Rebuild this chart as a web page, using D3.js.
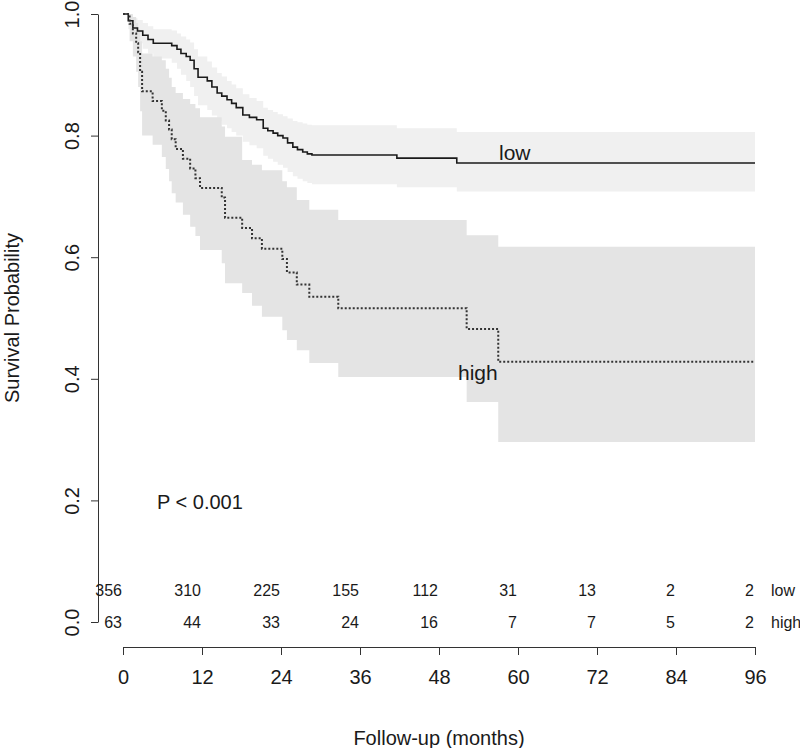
<!DOCTYPE html>
<html>
<head>
<meta charset="utf-8">
<script src="https://cdn.jsdelivr.net/npm/d3@7"></script>
<style>
  body { margin: 0; background: #fff; }
  text { font-family: "Liberation Sans", Arial, sans-serif; fill: #1a1a1a; }
</style>
</head>
<body>
<svg id="chart" width="800" height="748"></svg>
<script>
// ---- data ----
const lowTimes = [0, 0.8, 1.5, 2.2, 3.0, 3.8, 4.6, 7.4, 8.2, 8.8, 9.6, 10.2, 10.8, 11.4, 12.8, 13.5, 14.3, 15.0, 15.8, 16.5, 17.2, 18.2, 19.2, 20.3, 21.3, 22.0, 22.8, 23.5, 24.3, 25.0, 25.8, 26.5, 27.3, 28.0, 28.7, 41.6, 50.7];
const lowSurv  = [1, 0.989, 0.977, 0.972, 0.965, 0.958, 0.952, 0.948, 0.942, 0.935, 0.93, 0.924, 0.91, 0.896, 0.89, 0.88, 0.87, 0.865, 0.859, 0.853, 0.846, 0.834, 0.83, 0.826, 0.812, 0.808, 0.804, 0.8, 0.796, 0.788, 0.781, 0.777, 0.773, 0.77, 0.768, 0.763, 0.755];
const lowLower = [1, 0.975, 0.96, 0.952, 0.943, 0.935, 0.927, 0.92, 0.91, 0.9, 0.89, 0.88, 0.865, 0.85, 0.842, 0.833, 0.824, 0.818, 0.812, 0.806, 0.8, 0.79, 0.784, 0.779, 0.767, 0.762, 0.757, 0.752, 0.747, 0.74, 0.733, 0.729, 0.725, 0.722, 0.72, 0.715, 0.708];
const lowUpper = [1, 1.0, 0.993, 0.99, 0.985, 0.98, 0.975, 0.973, 0.968, 0.963, 0.958, 0.953, 0.942, 0.93, 0.922, 0.912, 0.903, 0.897, 0.89, 0.884, 0.878, 0.868, 0.862, 0.857, 0.846, 0.842, 0.839, 0.835, 0.832, 0.828, 0.824, 0.822, 0.82, 0.818, 0.817, 0.812, 0.806];

const highTimes = [0, 1.0, 1.5, 2.0, 2.3, 2.6, 2.9, 4.5, 5.9, 6.5, 7.0, 7.4, 8.0, 9.1, 10.2, 11.0, 11.7, 15.0, 15.5, 18.1, 19.6, 21.1, 24.2, 24.9, 26.4, 28.3, 32.7, 52.2, 57.0];
const highSurv  = [1, 0.984, 0.968, 0.952, 0.937, 0.905, 0.873, 0.857, 0.841, 0.825, 0.81, 0.794, 0.778, 0.762, 0.746, 0.73, 0.714, 0.698, 0.665, 0.648, 0.631, 0.614, 0.597, 0.575, 0.555, 0.535, 0.516, 0.482, 0.428];
const highLower = [1, 0.955, 0.93, 0.905, 0.88, 0.84, 0.80, 0.785, 0.765, 0.745, 0.725, 0.705, 0.69, 0.67, 0.65, 0.635, 0.612, 0.59, 0.557, 0.541, 0.52, 0.502, 0.48, 0.464, 0.447, 0.426, 0.403, 0.362, 0.296];
const highUpper = [1, 1.0, 0.995, 0.985, 0.975, 0.955, 0.935, 0.93, 0.924, 0.91, 0.895, 0.88, 0.87, 0.86, 0.852, 0.845, 0.83, 0.815, 0.798, 0.76, 0.752, 0.743, 0.725, 0.715, 0.694, 0.678, 0.661, 0.636, 0.617];

const riskTimes = [0, 12, 24, 36, 48, 60, 72, 84, 96];
const riskLow  = [356, 310, 225, 155, 112, 31, 13, 2, 2];
const riskHigh = [63, 44, 33, 24, 16, 7, 7, 5, 2];
const xTicks = [0, 12, 24, 36, 48, 60, 72, 84, 96];
const yTicks = [0, 0.2, 0.4, 0.6, 0.8, 1.0];
const tMax = 96;

// ---- scales ----
const svg = d3.select("#chart");
const x = d3.scaleLinear().domain([0, 96]).range([123, 755]);
const y = d3.scaleLinear().domain([0, 1]).range([622, 14]);

function rows(times, s, lo, up) {
  const r = times.map((t, i) => ({ t, s: s[i], lo: lo[i], up: up[i] }));
  const last = r[r.length - 1];
  r.push({ t: tMax, s: last.s, lo: last.lo, up: last.up });
  return r;
}
const lowRows = rows(lowTimes, lowSurv, lowLower, lowUpper);
const highRows = rows(highTimes, highSurv, highLower, highUpper);

const area = d3.area().curve(d3.curveStepAfter)
  .x(d => x(d.t)).y0(d => y(d.lo)).y1(d => y(d.up));
const line = d3.line().curve(d3.curveStepAfter)
  .x(d => x(d.t)).y(d => y(d.s));

// bands
svg.append("path").datum(lowRows).attr("d", area).attr("fill", "#f0f0f0");
svg.append("path").datum(highRows).attr("d", area).attr("fill", "#e4e4e4");

// curves
svg.append("path").datum(lowRows).attr("d", line)
  .attr("fill", "none").attr("stroke", "#1a1a1a").attr("stroke-width", 1.6);
svg.append("path").datum(highRows).attr("d", line)
  .attr("fill", "none").attr("stroke", "#333").attr("stroke-width", 2)
  .attr("stroke-dasharray", "2,2");

// curve labels
svg.append("text").attr("x", 499).attr("y", 153).attr("dy", "0.35em")
  .attr("font-size", 21).text("low");
svg.append("text").attr("x", 458).attr("y", 373).attr("dy", "0.35em")
  .attr("font-size", 21).text("high");
svg.append("text").attr("x", 157).attr("y", 502).attr("dy", "0.35em")
  .attr("font-size", 20).text("P < 0.001");

// y axis
const yAxis = svg.append("g").attr("transform", "translate(98,0)")
  .call(d3.axisLeft(y).tickValues(yTicks).tickFormat(d3.format(".1f")).tickSize(7).tickSizeOuter(0));
yAxis.select(".domain").attr("stroke", "#333");
yAxis.selectAll(".tick line").attr("stroke", "#333");
yAxis.selectAll(".tick text")
  .attr("font-size", 20).attr("font-family", "Liberation Sans, Arial, sans-serif")
  .attr("fill", "#1a1a1a")
  .attr("x", null).attr("dy", null)
  .attr("text-anchor", "middle")
  .attr("transform", "translate(-26,0) rotate(-90)")
  .attr("dominant-baseline", "central");

svg.append("text").attr("transform", "translate(12,318) rotate(-90)")
  .attr("text-anchor", "middle").attr("dominant-baseline", "central")
  .attr("font-size", 20).text("Survival Probability");

// x axis
const xAxis = svg.append("g").attr("transform", "translate(0,647)")
  .call(d3.axisBottom(x).tickValues(xTicks).tickFormat(d3.format("d")).tickSize(8).tickSizeOuter(0));
xAxis.select(".domain").attr("stroke", "#333");
xAxis.selectAll(".tick line").attr("stroke", "#333");
xAxis.selectAll(".tick text")
  .attr("font-size", 20).attr("font-family", "Liberation Sans, Arial, sans-serif")
  .attr("fill", "#1a1a1a").attr("y", 30).attr("dy", "0.35em");

svg.append("text").attr("x", 439).attr("y", 738).attr("dy", "0.35em")
  .attr("text-anchor", "middle").attr("font-size", 20).text("Follow-up (months)");

// numbers at risk
svg.selectAll(".rl").data(riskTimes).enter().append("text")
  .attr("x", d => x(d) - 1).attr("y", 590).attr("dy", "0.35em")
  .attr("text-anchor", "end").attr("font-size", 16)
  .text((d, i) => riskLow[i]);
svg.selectAll(".rh").data(riskTimes).enter().append("text")
  .attr("x", d => x(d) - 1).attr("y", 622).attr("dy", "0.35em")
  .attr("text-anchor", "end").attr("font-size", 16)
  .text((d, i) => riskHigh[i]);
svg.append("text").attr("x", 771).attr("y", 590).attr("dy", "0.35em")
  .attr("font-size", 16).text("low");
svg.append("text").attr("x", 771).attr("y", 622).attr("dy", "0.35em")
  .attr("font-size", 16).text("high");
</script>
</body>
</html>
